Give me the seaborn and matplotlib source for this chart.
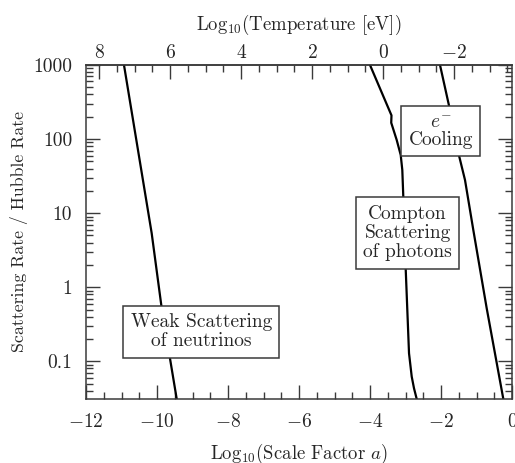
import numpy as np
import pandas as pd
import matplotlib
matplotlib.use("Agg")
import matplotlib.pyplot as plt
from matplotlib.ticker import MultipleLocator, LogLocator, FixedLocator, FixedFormatter, NullFormatter
import seaborn as sns

# log10(scale factor) and log10(scattering rate / Hubble rate) along each curve
weak_loga = [-10.93, -10.15, -9.86, -9.445]
weak_logr = [3.0, 0.73, -0.31, -1.507]

compton_loga = [-4.00, -3.395, -3.402, -3.248, -3.135, -3.090, -3.062,
                -2.994, -2.949, -2.901, -2.825, -2.761, -2.685]
compton_logr = [3.0, 2.32, 2.22, 1.988, 1.785, 1.583, 1.223,
                0.243, -0.306, -0.891, -1.206, -1.363, -1.507]

ecool_loga = [-2.028, -1.746, -1.485, -1.324, -1.09, -0.713, -0.245]
ecool_logr = [3.0, 2.39, 1.763, 1.448, 0.773, -0.283, -1.507]

# labels placed next to each curve
box_texts = ["Weak Scattering\nof neutrinos", "Compton\nScattering\nof photons", "$e^{-}$\nCooling"]
box_loga = [-8.75, -2.94, -2.01]
box_rate = [0.25, 5.4, 128.0]
box_spacing = [1.1, 1.1, 0.92]

y_ticks = [0.1, 1, 10, 100, 1000]
y_ticklabels = ["0.1", "1", "10", "100", "1000"]

LOG_T0 = -3.63  # log10 of today's photon temperature in eV

FS = 14

sns.set_style("ticks")
plt.rcParams.update({
    "font.family": "serif",
    "font.serif": ["cmr10"],
    "mathtext.fontset": "cm",
    "axes.formatter.use_mathtext": True,
    "font.size": FS,
})

frames = []
for name, la, lr in [("weak", weak_loga, weak_logr),
                     ("compton", compton_loga, compton_logr),
                     ("ecool", ecool_loga, ecool_logr)]:
    frames.append(pd.DataFrame({"loga": la, "rate": 10.0 ** np.asarray(lr), "process": name}))
df = pd.concat(frames, ignore_index=True)

fig = plt.figure(figsize=(5.15, 4.63), dpi=100)
ax = fig.add_axes([86 / 515, 1 - 399 / 463, 426 / 515, 334 / 463])

for name in ["weak", "compton", "ecool"]:
    sns.lineplot(data=df[df.process == name], x="loga", y="rate", ax=ax,
                 color="black", lw=1.6, sort=False, estimator=None, legend=False)

ax.set_yscale("log")
ax.set_xlim(-12, 0)
ax.set_ylim(0.031, 1000)

spine_col = "#3a3a3a"
for s in ax.spines.values():
    s.set_color(spine_col)
    s.set_linewidth(1.1)
    s.set_visible(True)

ax.xaxis.set_major_locator(MultipleLocator(2))
ax.xaxis.set_minor_locator(MultipleLocator(0.5))
ax.yaxis.set_major_locator(FixedLocator(y_ticks))
ax.yaxis.set_major_formatter(FixedFormatter(y_ticklabels))
ax.yaxis.set_minor_locator(LogLocator(base=10, subs=np.arange(2, 10)))
ax.yaxis.set_minor_formatter(NullFormatter())

ax.tick_params(which="both", direction="in", top=False, right=True,
               labelright=False, color=spine_col, width=1.0)
ax.tick_params(which="major", length=10)
ax.tick_params(which="minor", length=4.8)
ax.tick_params(axis="x", which="major", pad=10, labelsize=FS)
ax.tick_params(axis="y", which="major", pad=10, labelsize=FS)

ax.set_xlabel(r"Log$_{10}$(Scale Factor $a$)", fontsize=13.5, labelpad=8)
ax.set_ylabel("Scattering Rate / Hubble Rate", fontsize=12.8, labelpad=4)

temp = ax.secondary_xaxis("top", functions=(lambda a: LOG_T0 - a, lambda t: LOG_T0 - t))
temp.xaxis.set_major_locator(MultipleLocator(2))
temp.xaxis.set_minor_locator(MultipleLocator(0.5))
temp.tick_params(which="both", direction="in", color=spine_col, width=1.0)
temp.tick_params(which="major", length=10, pad=2.5, labelsize=FS)
temp.tick_params(which="minor", length=4.8)
temp.spines["top"].set_color(spine_col)
temp.spines["top"].set_linewidth(1.1)
temp.set_xlabel(r"Log$_{10}$(Temperature [eV])", fontsize=13.5, labelpad=9.5)

for txt, xa, yr, sp in zip(box_texts, box_loga, box_rate, box_spacing):
    ax.text(xa, yr, txt, ha="center", va="center", fontsize=FS,
            linespacing=sp, zorder=5,
            bbox=dict(boxstyle="square,pad=0.38", fc="white", ec=spine_col, lw=1.1))

fig.savefig("out.png", dpi=100)
